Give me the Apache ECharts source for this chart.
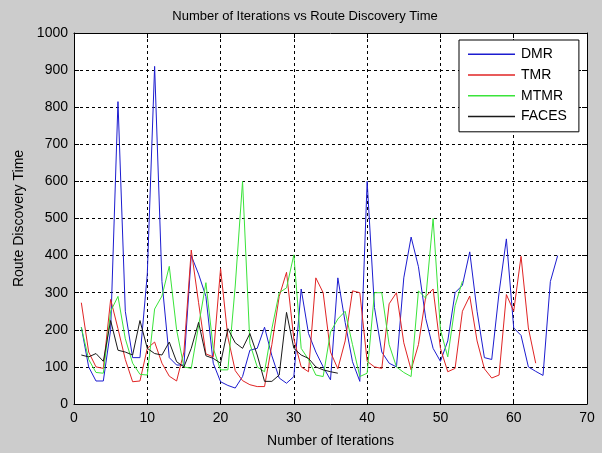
<!DOCTYPE html>
<html><head><meta charset="utf-8">
<script src="https://cdn.jsdelivr.net/npm/echarts@6/dist/echarts.min.js"></script>
<style>html,body{margin:0;padding:0;background:#cccccc}#c{width:602px;height:453px}</style>
</head><body><div id="c"></div>
<script>
const seriesNames = ['DMR', 'TMR', 'MTMR', 'FACES'];
const dmr = [207,100,62,62,200,815,250,125,125,350,910,330,125,105,105,400,350,290,110,60,50,43,74,145,150,207,130,70,56,74,310,190,140,100,65,340,220,114,61,600,260,140,110,100,340,450,370,230,150,115,170,300,320,410,250,125,120,300,445,205,185,100,88,77,330,400];
const tmr = [273,140,100,96,282,203,120,60,62,150,167,110,75,62,140,415,273,135,127,365,180,90,63,52,47,47,160,290,355,175,100,87,340,300,140,95,170,305,300,115,100,96,270,300,165,92,160,290,310,150,87,96,250,291,170,95,70,78,295,250,398,205,110];
const mtmr = [207,120,85,83,250,290,176,110,80,78,256,291,371,200,100,96,211,327,150,92,92,318,600,163,100,87,203,300,313,402,150,120,78,74,194,229,250,160,74,83,300,300,160,100,85,74,305,285,500,200,127,265,331];
const faces = [132,127,136,115,225,145,140,132,225,150,136,132,167,114,100,150,220,130,123,110,203,165,150,190,132,61,61,78,247,150,132,123,100,92,87,83];
const xTicks = {min: 0, max: 70, step: 10};
const yTicks = {min: 0, max: 1000, step: 100};
const colors = ['#1c1cd0', '#e02424', '#3ae43a', '#1a1a1a'];

const F = "'Liberation Sans', Arial, sans-serif";
const pairs = a => a.map((v, i) => [i + 1, v]);
const chart = echarts.init(document.getElementById('c'));
const tickStyle = {inside: true, length: 5, lineStyle: {color: '#000', width: 1}};
const lineStyle = {lineStyle: {color: '#000', width: 1}, onZero: false};
chart.setOption({
  backgroundColor: '#cccccc',
  animation: false,
  title: {text: 'Number of Iterations vs Route Discovery Time', left: 300, top: 5, textAlign: 'center',
    textStyle: {fontFamily: F, fontSize: 13, fontWeight: 'normal', color: '#000'}},
  grid: {left: 74, right: 15, top: 33, bottom: 43.5, show: true, backgroundColor: '#ffffff', borderWidth: 0},
  legend: {orient: 'vertical', left: 459, top: 40, data: seriesNames, icon: 'rect', itemWidth: 47, itemHeight: 1.5, itemGap: 0,
    backgroundColor: '#ffffff', borderColor: '#000', borderWidth: 1, padding: [4, 12, 5, 9],
    textStyle: {fontFamily: F, fontSize: 14, color: '#000', lineHeight: 20.7, padding: [0, 0, 0, 1]}},
  xAxis: [
    {type: 'value', min: xTicks.min, max: xTicks.max, interval: xTicks.step,
     name: 'Number of Iterations', nameLocation: 'middle', nameGap: 30,
     nameTextStyle: {fontFamily: F, fontSize: 14, color: '#000'},
     axisLine: lineStyle, axisTick: tickStyle,
     axisLabel: {fontFamily: F, fontSize: 14, color: '#000', margin: 7, formatter: v => String(v)},
     splitLine: {show: true, lineStyle: {color: '#000', type: [3, 3], width: 1}}},
    {type: 'value', position: 'top', min: xTicks.min, max: xTicks.max, interval: xTicks.step,
     axisLine: lineStyle, axisTick: tickStyle, axisLabel: {show: false}, splitLine: {show: false}}
  ],
  yAxis: [
    {type: 'value', min: yTicks.min, max: yTicks.max, interval: yTicks.step,
     name: 'Route Discovery Time', nameLocation: 'middle', nameGap: 48,
     nameTextStyle: {fontFamily: F, fontSize: 14, color: '#000'},
     axisLine: lineStyle, axisTick: tickStyle,
     axisLabel: {fontFamily: F, fontSize: 14, color: '#000', margin: 6, formatter: v => String(v)},
     splitLine: {show: true, lineStyle: {color: '#000', type: [3, 3], width: 1}}},
    {type: 'value', position: 'right', min: yTicks.min, max: yTicks.max, interval: yTicks.step,
     axisLine: lineStyle, axisTick: tickStyle, axisLabel: {show: false}, splitLine: {show: false}}
  ],
  series: [dmr, tmr, mtmr, faces].map((d, i) => ({
    name: seriesNames[i], type: 'line', data: pairs(d), symbol: 'none', showSymbol: false,
    color: colors[i], lineStyle: {width: 1, color: colors[i]}, z: 3
  }))
});
</script></body></html>
